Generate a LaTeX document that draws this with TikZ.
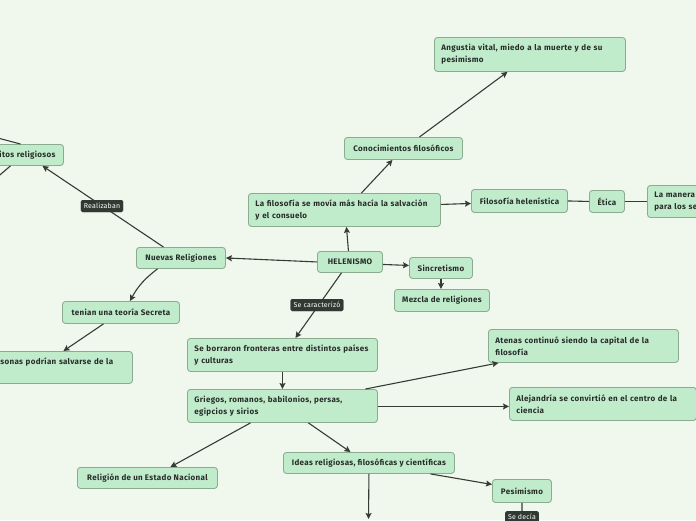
\documentclass[tikz,border=0pt]{standalone}
\usepackage{fontspec}
\setmainfont{Fira Sans}
\newfontfamily\nodefont[LetterSpace=4]{Fira Sans}
\newfontfamily\labfont[LetterSpace=3]{Fira Sans}
\usetikzlibrary{arrows.meta}
\definecolor{bg}{RGB}{240,248,238}
\definecolor{nodefill}{RGB}{193,236,204}
\definecolor{nodeborder}{RGB}{140,172,146}
\definecolor{nodetext}{RGB}{40,44,41}
\definecolor{edgecol}{RGB}{52,60,54}
\definecolor{labelfill}{RGB}{48,58,51}
\tikzset{
  box/.style={draw=nodeborder, fill=nodefill, rounded corners=3pt, line width=0.9pt,
    font=\nodefont\fontsize{8}{12}\selectfont\bfseries, text=nodetext, anchor=north west,
    inner sep=0pt, align=center},
  tbox/.style={box, align=left, inner xsep=7pt},
  lab/.style={fill=labelfill, text=white, font=\labfont\fontsize{7}{8}\selectfont,
    rounded corners=1.5pt, inner xsep=3pt, inner ysep=0pt, minimum height=12pt},
  conn/.style={draw=edgecol, line width=1.1pt},
  arr/.style={conn, -{Stealth[length=6pt,width=6pt,inset=1pt]}}
}
\begin{document}
\begin{tikzpicture}[x=1pt,y=-1pt]
\useasboundingbox (0,0) rectangle (696,520);
\clip (0,0) rectangle (696,520);
\fill[bg] (0,0) rectangle (696,520);

% nodes
\node[box, text width=87pt, align=right, inner xsep=8pt, minimum height=21pt] (ritos) at (-40,144) {itos religiosos};
\node[box, minimum width=89pt, minimum height=21pt] (nuevas) at (136,247) {Nuevas Religiones};
\node[box, minimum width=65pt, minimum height=21pt] (helenismo) at (317,251) {HELENISMO};
\node[tbox, text width=178pt, minimum height=33pt] (filosofia) at (248,193) {La filosofía se movía más hacía la salvación\\y el consuelo};
\node[box, minimum width=118pt, minimum height=22pt] (conoc) at (344,137) {Conocimientos filosóficos};
\node[tbox, text width=177pt, minimum height=34pt] (angustia) at (434,37) {Angustia vital, miedo a la muerte y de su\\pesimismo};
\node[box, minimum width=96pt, minimum height=23pt] (filhel) at (471,189) {Filosofía helenística};
\node[box, minimum width=35pt, minimum height=22pt] (etica) at (589,190) {Ética};
\node[tbox, text width=106pt, minimum height=32pt] (manera) at (647,185) {La manera\\para los se};
\node[box, minimum width=63pt, minimum height=21pt] (sincretismo) at (409,257) {Sincretismo};
\node[box, minimum width=95pt, minimum height=22pt] (mezcla) at (394,289) {Mezcla de religiones};
\node[box, minimum width=117pt, minimum height=22pt] (tenian) at (62,301) {tenian una teoría Secreta};
\node[tbox, text width=125pt, minimum height=32pt] (sonas) at (-7,351) {sonas podrían salvarse de la\\~};
\node[tbox, text width=176pt, minimum height=33pt] (seborraron) at (187,338) {Se borraron fronteras entre distintos países\\y culturas};
\node[tbox, text width=176pt, minimum height=33pt] (griegos) at (187,389) {Griegos, romanos, babilonios, persas,\\egipcios y sirios};
\node[tbox, text width=176pt, minimum height=33pt] (atenas) at (488,329) {Atenas continuó siendo la capital de la\\filosofía};
\node[tbox, text width=173pt, minimum height=33pt] (alejandria) at (509,387) {Alejandría se convirtió en el centro de la\\ciencia};
\node[box, minimum width=140pt, minimum height=21pt] (religion) at (77,467) {Religión de un Estado Nacional};
\node[box, minimum width=171pt, minimum height=21pt] (ideas) at (283,452) {Ideas religiosas, filosóficas y científicas};
\node[box, minimum width=59pt, minimum height=23pt] (pesimismo) at (492,479) {Pesimismo};

% labels
\node[lab] (realizaban) at (102,206) {Realizaban};
\node[lab] (secaract) at (317,305) {Se caracterizó};
\node[lab, anchor=north] (sedecia) at (522,511) {Se decía};

% off-canvas ends
\coordinate (offA) at (-40,128);
\coordinate (offB) at (-20,192);
\coordinate (ideasdown) at (368.5,519);

% connectors
\draw[conn] (offA) -- ([xshift=8.5pt]ritos.north);
\draw[conn] ([xshift=-1.5pt]ritos.south) -- (offB);
\draw[arr] ([xshift=-17.5pt]nuevas.north) -- ([xshift=30.5pt]ritos.south);
\draw[arr] (helenismo.west) -- (nuevas.east);
\draw[arr] ([xshift=-1.5pt]helenismo.north) -- ([xshift=2pt]filosofia.south);
\draw[arr] ([xshift=17pt]filosofia.north) -- ([xshift=-11pt]conoc.south);
\draw[arr] ([xshift=16pt]conoc.north) -- ([xshift=-22.5pt]angustia.south);
\draw[arr] ([yshift=5.5pt]filosofia.east) -- ([yshift=-2.5pt]filhel.west);
\draw[conn] (filhel.east) -- (etica.west);
\draw[conn] (etica.east) -- (manera.west |- etica.east);
\draw[arr] ([yshift=-2.5pt]helenismo.east) -- ([yshift=2.5pt]sincretismo.west);
\draw[arr] (sincretismo.south) -- (sincretismo.south |- mezcla.north);
\draw[arr] ([xshift=-8.5pt]helenismo.south) -- ([xshift=13pt]seborraron.north);
\draw[arr] ([xshift=-23.5pt]nuevas.south) to[bend right=12] ([xshift=9pt]tenian.north);
\draw[arr] ([xshift=-17.5pt]tenian.south) -- ([xshift=0.5pt]sonas.north);
\draw[arr] (seborraron.south) -- (griegos.north);
\draw[arr] ([xshift=83pt]griegos.north) -- ([xshift=-85pt]atenas.south);
\draw[arr] ([yshift=-0.5pt]griegos.east) -- ([yshift=-0.5pt]griegos.east -| alejandria.west);
\draw[arr] ([xshift=-32pt]griegos.south) -- ([xshift=23pt]religion.north);
\draw[arr] ([xshift=26pt]griegos.south) -- ([xshift=-18.5pt]ideas.north);
\draw[arr] ([xshift=61.5pt]ideas.south) -- ([yshift=6.5pt]pesimismo.west);
\draw[conn] (pesimismo.south) -- (sedecia.north);
\draw[arr] (ideas.south) -- (ideasdown);

% redraw labels over lines
\node[lab] at (realizaban) {Realizaban};
\node[lab] at (secaract) {Se caracterizó};
\end{tikzpicture}
\end{document}
